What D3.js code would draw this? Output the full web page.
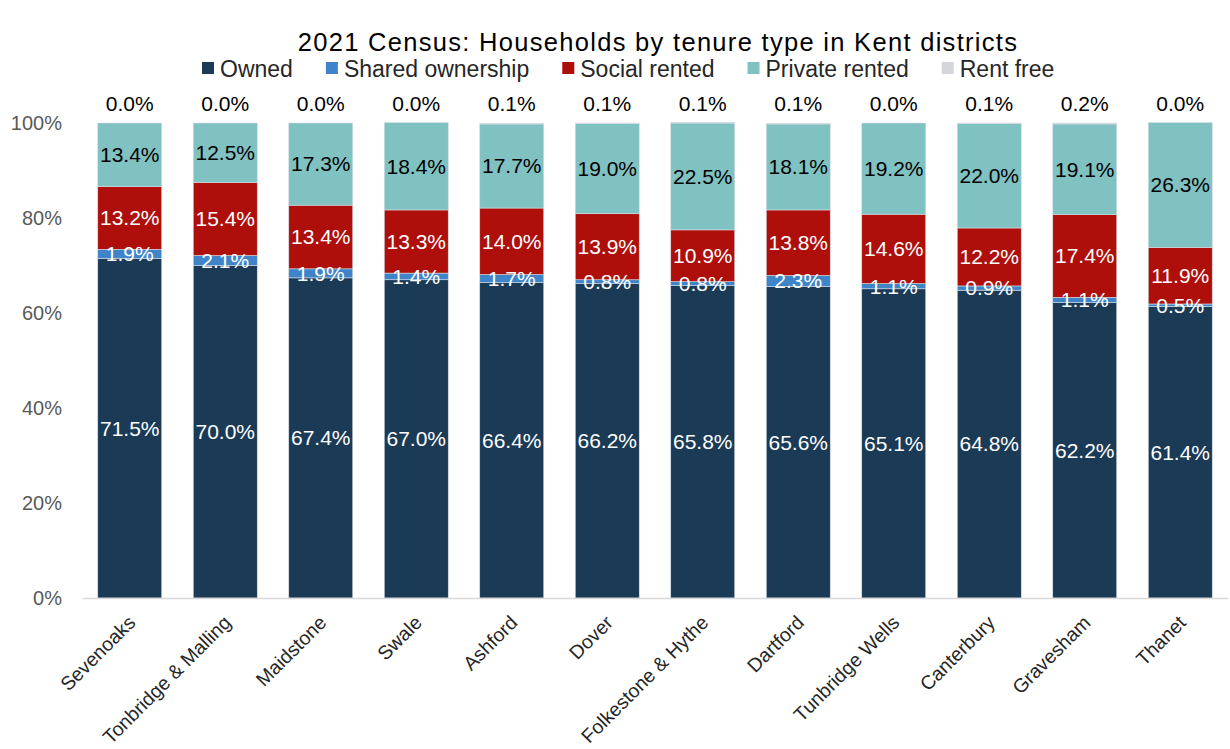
<!DOCTYPE html>
<html>
<head>
<meta charset="utf-8">
<script src="https://cdn.jsdelivr.net/npm/d3@7"></script>
<style>
  body { margin: 0; background: #fff; }
  svg text { font-family: "Liberation Sans", Arial, sans-serif; }
</style>
</head>
<body>
<svg class="chart"></svg>
<script>
const districts = ["Sevenoaks", "Tonbridge & Malling", "Maidstone", "Swale", "Ashford", "Dover",
  "Folkestone & Hythe", "Dartford", "Tunbridge Wells", "Canterbury", "Gravesham", "Thanet"];
const tenures = ["Owned", "Shared ownership", "Social rented", "Private rented", "Rent free"];
const owned   = [71.5, 70.0, 67.4, 67.0, 66.4, 66.2, 65.8, 65.6, 65.1, 64.8, 62.2, 61.4];
const shared  = [1.9, 2.1, 1.9, 1.4, 1.7, 0.8, 0.8, 2.3, 1.1, 0.9, 1.1, 0.5];
const social  = [13.2, 15.4, 13.4, 13.3, 14.0, 13.9, 10.9, 13.8, 14.6, 12.2, 17.4, 11.9];
const privateRented = [13.4, 12.5, 17.3, 18.4, 17.7, 19.0, 22.5, 18.1, 19.2, 22.0, 19.1, 26.3];
const rentFree = [0.0, 0.0, 0.0, 0.0, 0.1, 0.1, 0.1, 0.1, 0.0, 0.1, 0.2, 0.0];
const yTicks = [0, 20, 40, 60, 80, 100];

const colors = ["#1a3a56", "#3f84c8", "#ae0f0b", "#80c1c1", "#d3d7db"];
const labelColors = ["#fff", "#fff", "#fff", "#000", "#000"];

const width = 1230, height = 749;
let margin = {top: 123, right: 2, bottom: 151, left: 82};
let widthChart = width - margin.left - margin.right;
let heightChart = height - margin.top - margin.bottom;

const table = districts.map((d, i) => ({
  district: d,
  "Owned": owned[i],
  "Shared ownership": shared[i],
  "Social rented": social[i],
  "Private rented": privateRented[i],
  "Rent free": rentFree[i]
}));
const series = d3.stack().keys(tenures)(table);

const svg = d3.select(".chart").attr("width", width).attr("height", height);
const chart = svg.append("g").attr("transform", "translate(" + margin.left + "," + margin.top + ")");

let x = d3.scaleBand().domain(districts).range([0, widthChart]).paddingInner(0.33).paddingOuter(0.165);
let y = d3.scaleLinear().domain([0, 100]).range([heightChart, 0]);
const color = d3.scaleOrdinal().domain(tenures).range(colors);

/* title */
svg.append("text").text("2021 Census: Households by tenure type in Kent districts")
  .attr("x", 658).attr("y", 51)
  .attr("text-anchor", "middle")
  .style("font-size", "25.5px")
  .style("letter-spacing", "1.3px")
  .attr("fill", "#000");

/* legend */
let lx = 202;
tenures.forEach(function(t) {
  svg.append("rect").attr("x", lx).attr("y", 62).attr("width", 12).attr("height", 12).attr("fill", color(t));
  const txt = svg.append("text").text(t)
    .attr("x", lx + 18).attr("y", 76.5)
    .style("font-size", "23px")
    .attr("fill", "#262626");
  lx += 18 + txt.node().getComputedTextLength() + 33;
});

/* y axis */
const yAxis = d3.axisLeft(y).tickValues(yTicks).tickFormat(d => d + "%").tickSize(0).tickPadding(20);
const yG = chart.append("g").attr("class", "axis").call(yAxis);
yG.select(".domain").remove();
yG.selectAll("text").style("font-size", "20px").attr("fill", "#595959");

/* bars */
const layer = chart.selectAll("g.layer")
  .data(series)
  .enter().append("g")
  .attr("class", "layer")
  .attr("fill", d => color(d.key));

layer.selectAll("rect")
  .data(d => d)
  .enter().append("rect")
  .attr("x", d => x(d.data.district))
  .attr("y", d => y(d[1]))
  .attr("height", d => y(d[0]) - y(d[1]))
  .attr("width", x.bandwidth())
  .attr("stroke", "#d6dde3")
  .attr("stroke-width", 0.6);

/* x axis */
const xAxis = d3.axisBottom(x).tickSize(0).tickPadding(10);
const xG = chart.append("g").attr("class", "axis")
  .attr("transform", "translate(0," + heightChart + ")")
  .call(xAxis);
xG.select(".domain").attr("stroke", "#d9d9d9").attr("stroke-width", 1.5);
xG.selectAll("text")
  .style("font-size", "19.5px")
  .attr("fill", "#262626")
  .attr("text-anchor", "end")
  .attr("dy", "0.35em")
  .attr("transform", "translate(-5,14) rotate(-45)");

/* data labels */
series.forEach(function(s, si) {
  chart.selectAll("text.lbl" + si)
    .data(s)
    .enter().append("text")
    .attr("class", "lbl" + si)
    .text(d => (d[1] - d[0]).toFixed(1) + "%")
    .attr("x", d => x(d.data.district) + x.bandwidth() / 2)
    .attr("y", d => s.key === "Rent free" ? y(100) - 19 : y((d[0] + d[1]) / 2))
    .attr("dy", "0.35em")
    .attr("text-anchor", "middle")
    .style("font-size", "21px")
    .attr("fill", labelColors[si]);
});
</script>
</body>
</html>
